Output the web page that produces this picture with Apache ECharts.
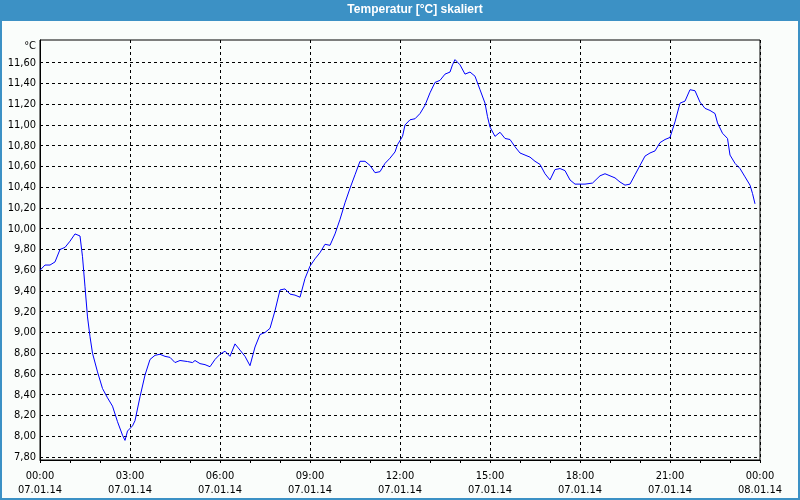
<!DOCTYPE html>
<html>
<head>
<meta charset="utf-8">
<script src="https://cdn.jsdelivr.net/npm/echarts@6/dist/echarts.min.js"></script>
<style>
html,body{margin:0;padding:0;background:#fafdfb;}
#c{width:800px;height:500px;}
</style>
</head>
<body>
<div id="c"></div>
<script>
// time in minutes since 07.01.14 00:00
const times = [0,10,20,30,40,50,60,70,80,85,90,95,100,105,115,125,135,145,155,165,170,175,185,190,200,210,220,230,240,250,260,270,280,295,305,310,320,330,340,350,360,370,380,390,400,410,420,430,440,450,460,470,480,490,500,510,520,530,540,550,560,570,580,590,600,610,620,630,640,650,660,670,680,690,700,710,715,725,730,740,750,760,770,780,790,800,810,820,825,830,840,850,860,870,880,890,895,900,910,920,930,940,950,960,970,980,990,1000,1010,1020,1030,1040,1050,1060,1070,1080,1090,1105,1120,1130,1140,1150,1160,1170,1180,1190,1200,1210,1220,1230,1240,1250,1260,1270,1280,1290,1300,1310,1320,1330,1340,1350,1355,1365,1375,1380,1390,1400,1410,1420,1425,1430];
const temps = [9.60,9.65,9.65,9.68,9.80,9.82,9.88,9.95,9.93,9.73,9.44,9.15,8.96,8.80,8.62,8.46,8.37,8.29,8.14,8.01,7.96,8.05,8.10,8.15,8.38,8.59,8.74,8.78,8.79,8.77,8.76,8.71,8.73,8.72,8.71,8.73,8.70,8.69,8.67,8.74,8.79,8.82,8.77,8.89,8.83,8.77,8.68,8.86,8.98,9.00,9.04,9.21,9.41,9.42,9.37,9.36,9.34,9.52,9.64,9.71,9.77,9.85,9.84,9.95,10.09,10.25,10.39,10.52,10.65,10.65,10.61,10.54,10.55,10.63,10.68,10.74,10.81,10.89,11.00,11.05,11.06,11.11,11.19,11.31,11.41,11.43,11.49,11.51,11.58,11.63,11.58,11.49,11.51,11.47,11.34,11.21,11.08,10.98,10.89,10.93,10.87,10.86,10.79,10.73,10.71,10.69,10.65,10.62,10.53,10.47,10.57,10.58,10.56,10.47,10.43,10.43,10.43,10.44,10.51,10.53,10.51,10.49,10.45,10.42,10.43,10.52,10.61,10.70,10.73,10.75,10.83,10.86,10.88,11.03,11.21,11.23,11.34,11.33,11.22,11.16,11.14,11.11,11.02,10.92,10.87,10.71,10.63,10.58,10.50,10.42,10.34,10.24];
const yTicks = [7.8,8.0,8.2,8.4,8.6,8.8,9.0,9.2,9.4,9.6,9.8,10.0,10.2,10.4,10.6,10.8,11.0,11.2,11.4,11.6];
const xTickTimes = ['00:00','03:00','06:00','09:00','12:00','15:00','18:00','21:00','00:00'];
const xTickDates = ['07.01.14','07.01.14','07.01.14','07.01.14','07.01.14','07.01.14','07.01.14','07.01.14','08.01.14'];
const titleText = 'Temperatur [°C] skaliert';
const unitText = '°C';

const FONT = "'DejaVu Sans Condensed', 'DejaVu Sans', sans-serif";
const chart = echarts.init(document.getElementById('c'), null, {renderer: 'canvas'});
const data = times.map((t, i) => [t, temps[i]]);

chart.setOption({
  backgroundColor: '#fafdfb',
  animation: false,
  grid: {
    left: 40, top: 40, width: 720, height: 420,
    show: true, borderColor: '#000', borderWidth: 1,
    backgroundColor: 'transparent',
    containLabel: false, outerBoundsMode: 'none'
  },
  graphic: [
    {type: 'rect', left: 0, top: 0, shape: {width: 800, height: 21}, style: {fill: '#3c91c5'}, z: 10},
    {type: 'rect', shape: {x: 0, y: 0, width: 2, height: 500}, style: {fill: '#3c91c5'}, z: 10},
    {type: 'rect', shape: {x: 798, y: 0, width: 2, height: 500}, style: {fill: '#3c91c5'}, z: 10},
    {type: 'rect', shape: {x: 0, y: 498, width: 800, height: 2}, style: {fill: '#3c91c5'}, z: 10},
    {type: 'text', x: 415, y: 10, z: 11,
     style: {text: titleText, fill: '#ffffff', font: "bold 12px 'Liberation Sans', sans-serif", align: 'center', verticalAlign: 'middle'}},
    {type: 'text', x: 36, y: 46, z: 11,
     style: {text: unitText, fill: '#000', font: "11px " + FONT, align: 'right', verticalAlign: 'middle'}}
  ],
  xAxis: {
    type: 'value', min: 0, max: 1440, interval: 180,
    axisLine: {show: true, lineStyle: {color: '#000', width: 1}},
    axisTick: {show: true, length: 3, lineStyle: {color: '#000'}},
    minorTick: {show: true, splitNumber: 3, length: 3, lineStyle: {color: '#000'}},
    minorSplitLine: {show: false},
    splitLine: {show: true, lineStyle: {color: '#000', type: [3, 3], width: 1}},
    axisLabel: {
      margin: 9, color: '#000', fontFamily: FONT, fontSize: 11, lineHeight: 14,
      formatter: v => { const i = Math.round(v / 180); return xTickTimes[i] + '\n' + xTickDates[i]; },
      showMinLabel: true, showMaxLabel: true
    }
  },
  yAxis: {
    type: 'value', min: 7.771, max: 11.819,
    axisLine: {show: true, lineStyle: {color: '#000', width: 1}},
    axisTick: {show: false, customValues: yTicks},
    splitLine: {show: true, lineStyle: {color: '#000', type: [3, 3], width: 1}},
    axisLabel: {
      customValues: yTicks, margin: 4, color: '#000', fontFamily: FONT, fontSize: 11,
      formatter: v => v.toFixed(2).replace('.', ',')
    }
  },
  series: [{
    type: 'line', data: data, showSymbol: false, symbol: 'none',
    lineStyle: {color: '#0000ff', width: 1}, clip: false, smooth: false
  }]
});
</script>
</body>
</html>
